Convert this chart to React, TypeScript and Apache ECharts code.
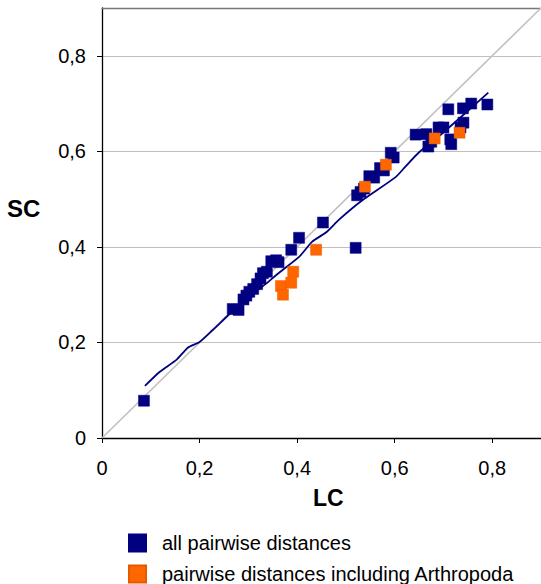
import React, { useEffect, useRef } from "react";
import * as echarts from "echarts";

const xTicks = [0, 0.2, 0.4, 0.6, 0.8];
const yTicks = [0, 0.2, 0.4, 0.6, 0.8];

const allPairs: [number, number][] = [
  [0.086, 0.078],
  [0.268, 0.27], [0.28, 0.268], [0.29, 0.29], [0.296, 0.298], [0.302, 0.306],
  [0.31, 0.312], [0.318, 0.322], [0.325, 0.334], [0.33, 0.345], [0.338, 0.348],
  [0.347, 0.37], [0.357, 0.372], [0.362, 0.368],
  [0.388, 0.394], [0.404, 0.419], [0.453, 0.451], [0.52, 0.398],
  [0.523, 0.508], [0.53, 0.515], [0.537, 0.522], [0.548, 0.548], [0.558, 0.545],
  [0.57, 0.565], [0.578, 0.56], [0.592, 0.597], [0.598, 0.587],
  [0.643, 0.635], [0.665, 0.636], [0.669, 0.61], [0.675, 0.62], [0.69, 0.65],
  [0.7, 0.65], [0.71, 0.688], [0.714, 0.625], [0.716, 0.615], [0.735, 0.65],
  [0.741, 0.66], [0.74, 0.69], [0.757, 0.7], [0.79, 0.698],
];

const arthropoda: [number, number][] = [
  [0.367, 0.318], [0.371, 0.3], [0.388, 0.325], [0.392, 0.348], [0.439, 0.394],
  [0.539, 0.526], [0.582, 0.572], [0.682, 0.627], [0.733, 0.639],
];

const trend: [number, number][] = [
  [0.088, 0.109], [0.118, 0.138], [0.153, 0.164], [0.176, 0.189], [0.2, 0.201],
  [0.227, 0.226], [0.26, 0.258], [0.3, 0.295], [0.335, 0.322], [0.363, 0.346],
  [0.404, 0.379], [0.431, 0.411], [0.459, 0.43], [0.486, 0.457], [0.533, 0.497],
  [0.602, 0.546], [0.622, 0.568], [0.649, 0.597], [0.69, 0.631], [0.737, 0.673],
  [0.792, 0.723],
];

const diagonal: [number, number][] = [[0, 0], [0.9, 0.9]];

const seriesNames = ["all pairwise distances", "pairwise distances including Arthropoda"];

const FONT = "'Liberation Sans', Arial, sans-serif";
const fmt = (v: number) => (v === 0 ? "0" : v.toFixed(1).replace(".", ","));

const legendItem = (name: string, top: number) => ({
  orient: "horizontal", left: 128, top, padding: 0, itemWidth: 17, itemHeight: 17,
  icon: "rect", selectedMode: false, data: [name],
  textStyle: { fontSize: 20, color: "#000", fontFamily: FONT, padding: [0, 0, 0, 11] },
});

export default function App() {
  const ref = useRef<HTMLDivElement>(null);
  useEffect(() => {
    if (!ref.current) return;
    const chart = echarts.init(ref.current, undefined, { renderer: "svg" });
    chart.setOption({
      animation: false,
      backgroundColor: "#fff",
      textStyle: { fontFamily: FONT },
      grid: { left: 102, top: 8, width: 439, height: 430, containLabel: false },
      xAxis: [
        {
          type: "value", min: 0, max: 0.9, interval: 0.2, position: "bottom",
          axisLine: { show: true, lineStyle: { color: "#000", width: 1.3 } },
          axisTick: { show: true, length: 5, customValues: xTicks, lineStyle: { color: "#000" } },
          axisLabel: { customValues: xTicks, formatter: fmt, fontSize: 20, color: "#000", margin: 20, fontFamily: FONT },
          splitLine: { show: false },
        },
        {
          type: "value", min: 0, max: 0.9, position: "top",
          axisLine: { show: true, lineStyle: { color: "#777", width: 1.3 } },
          axisTick: { show: false }, axisLabel: { show: false }, splitLine: { show: false },
        },
      ],
      yAxis: {
        type: "value", min: 0, max: 0.9, interval: 0.2,
        axisLine: { show: true, lineStyle: { color: "#000", width: 1.3 } },
        axisTick: { show: true, length: 5, customValues: yTicks, lineStyle: { color: "#000" } },
        axisLabel: { customValues: yTicks, formatter: fmt, fontSize: 20, color: "#000", margin: 16, fontFamily: FONT },
        splitLine: { show: true, lineStyle: { color: "#c0c0c0", width: 1 } },
      },
      legend: [legendItem(seriesNames[0], 533), legendItem(seriesNames[1], 564)],
      graphic: [
        { type: "text", left: 7, top: 196, style: { text: "SC", font: `bold 24px ${FONT}`, fill: "#000" } },
        { type: "text", left: 313, top: 486, style: { text: "LC", font: `bold 23px ${FONT}`, fill: "#000" } },
      ],
      series: [
        {
          name: "diagonal", type: "line", data: diagonal, symbol: "none", silent: true,
          lineStyle: { color: "#c0c0c0", width: 1.6 }, z: 1,
        },
        {
          name: "trend", type: "line", data: trend, symbol: "none", smooth: 0.2, silent: true,
          lineStyle: { color: "#000080", width: 1.8 }, z: 2,
        },
        {
          name: seriesNames[0], type: "scatter", data: allPairs, symbol: "rect", symbolSize: 11,
          itemStyle: { color: "#000080", borderColor: "#000080", borderWidth: 0.5, opacity: 1 }, z: 3,
        },
        {
          name: seriesNames[1], type: "scatter", data: arthropoda, symbol: "rect", symbolSize: 11,
          itemStyle: { color: "#ff6600", borderColor: "#e35a00", borderWidth: 0.5, opacity: 1 }, z: 4,
        },
      ],
    });
    return () => chart.dispose();
  }, []);
  return <div ref={ref} style={{ position: "absolute", left: 0, top: 0, width: 541, height: 584 }} />;
}
